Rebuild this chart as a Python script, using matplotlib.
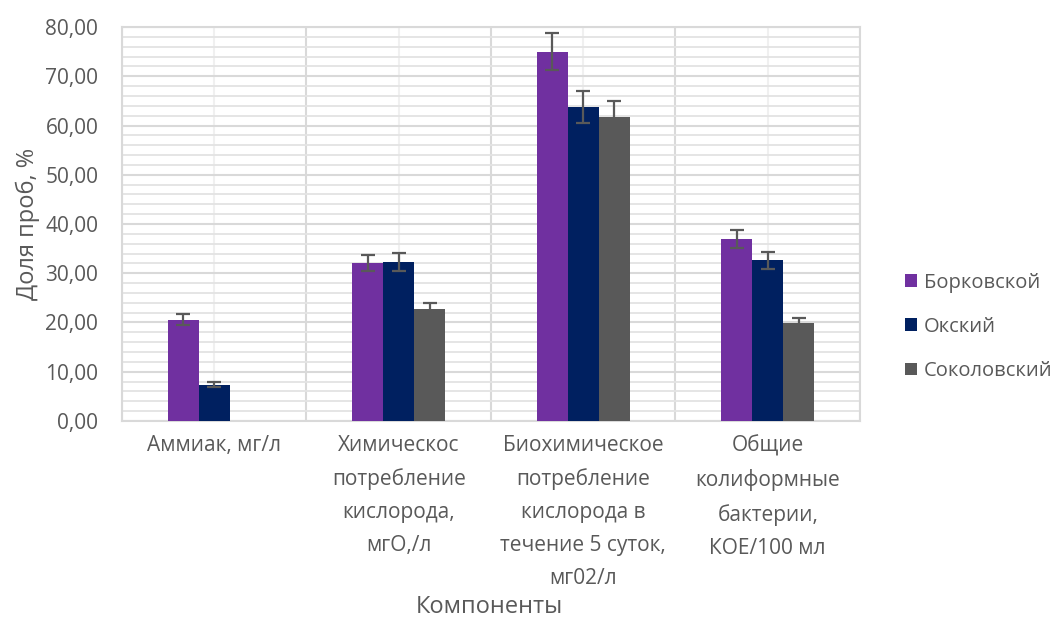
import matplotlib.pyplot as plt
import numpy as np
from matplotlib.ticker import FuncFormatter, MultipleLocator

# data
categories = [
    "Аммиак, мг/л",
    "Химическос\nпотребление\nкислорода,\nмгО,/л",
    "Биохимическое\nпотребление\nкислорода в\nтечение 5 суток,\nмг02/л",
    "Общие\nколиформные\nбактерии,\nКОЕ/100 мл",
]
series_names = ["Борковской", "Окский", "Соколовский"]
borkovskoy = [20.6, 32.1, 75.0, 37.0]
borkovskoy_err = [1.1, 1.7, 3.8, 1.8]
okskiy = [7.4, 32.3, 63.8, 32.6]
okskiy_err = [0.55, 1.8, 3.2, 1.75]
sokolovskiy = [0.0, 22.7, 61.8, 19.8]
sokolovskiy_err = [0.0, 1.2, 3.1, 1.2]

colors = ["#7030A0", "#002060", "#595959"]
text_color = "#595959"

plt.rcParams["font.family"] = ["Open Sans", "DejaVu Sans"]

fig = plt.figure(figsize=(10.57, 6.18), dpi=100)
ax = fig.add_axes([0.1154, 0.3188, 0.6982, 0.6375])

x = np.arange(len(categories)) + 0.5
width = 0.168
values = [borkovskoy, okskiy, sokolovskiy]
errors = [borkovskoy_err, okskiy_err, sokolovskiy_err]

for i, (vals, errs) in enumerate(zip(values, errors)):
    vals = np.array(vals)
    errs = np.array(errs)
    pos = x + (i - 1) * width
    ax.bar(pos, vals, width, color=colors[i], label=series_names[i], zorder=3)
    # no error bar where there's no bar
    mask = vals > 0
    ax.errorbar(pos[mask], vals[mask], yerr=errs[mask], fmt="none",
                ecolor="#595959", elinewidth=1.6, capsize=5, capthick=1.6,
                zorder=4)

# axes limits and grid
ax.set_xlim(0, len(categories))
ax.set_ylim(0, 80)
ax.yaxis.set_major_locator(MultipleLocator(10))
ax.yaxis.set_minor_locator(MultipleLocator(2))
ax.yaxis.set_major_formatter(FuncFormatter(lambda v, _: f"{v:.2f}".replace(".", ",")))
ax.set_xticks(np.arange(len(categories) + 1), minor=False)
ax.set_xticks(x, minor=True)
ax.set_xticklabels([])
ax.set_xticklabels(categories, minor=True)

ax.grid(which="major", axis="y", color="#D9D9D9", linewidth=1.5, zorder=0)
ax.grid(which="minor", axis="y", color="#E3E3E3", linewidth=1.3, zorder=0)
ax.grid(which="major", axis="x", color="#D9D9D9", linewidth=1.5, zorder=0)
ax.grid(which="minor", axis="x", color="#F0F0F0", linewidth=1.5, zorder=0)

for s in ax.spines.values():
    s.set_color("#D9D9D9")
    s.set_linewidth(1.5)

ax.tick_params(axis="both", which="both", length=0, colors=text_color)
ax.tick_params(axis="y", labelsize=15, pad=17)
ax.tick_params(axis="x", which="minor", labelsize=15, pad=10)
for lbl in ax.get_xticklabels(minor=True):
    lbl.set_linespacing(1.75)
    lbl.set_horizontalalignment("center")
    lbl.set_verticalalignment("top")

ax.set_ylabel("Доля проб, %", fontsize=17, color=text_color, labelpad=4)
fig.text(0.463, 0.018, "Компоненты", fontsize=17, color=text_color,
         ha="center", va="center")

leg = ax.legend(loc="center left", bbox_to_anchor=(0.839, 0.471),
                bbox_transform=fig.transFigure, frameon=False,
                fontsize=14.5, handlelength=0.6, handleheight=0.6,
                handletextpad=0.35, labelspacing=1.2)
for t in leg.get_texts():
    t.set_color(text_color)

plt.savefig("out.png", dpi=100)
